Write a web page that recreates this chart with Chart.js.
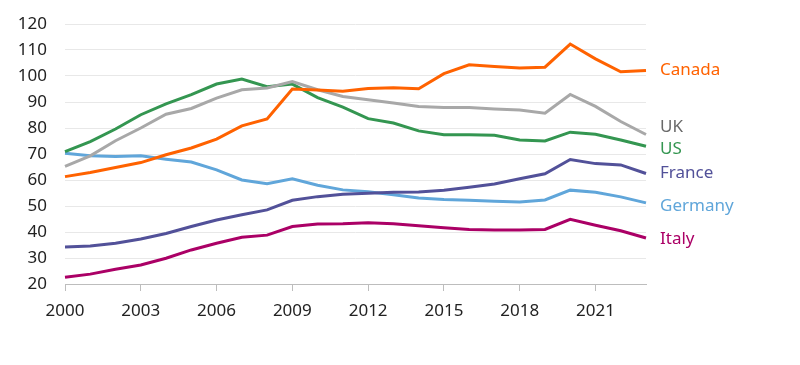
<!DOCTYPE html>
<html>
<head>
<meta charset="utf-8">
<script src="https://cdn.jsdelivr.net/npm/chart.js@4"></script>
<style>
  html, body { margin: 0; padding: 0; background: #fff; }
  #wrap { width: 800px; height: 365px; }
</style>
</head>
<body>
<div id="wrap"><canvas id="chart" width="800" height="365"></canvas></div>
<script>
var years = [];
for (var y = 2000; y <= 2023; y++) years.push(String(y));

var canada  = [61.3, 62.9, 64.8, 66.7, 69.7, 72.3, 75.7, 80.8, 83.5, 95.0, 94.6, 94.1, 95.2, 95.5, 95.1, 100.9, 104.3, 103.7, 103.1, 103.4, 112.3, 106.6, 101.6, 102.1];
var uk      = [65.2, 69.3, 75.1, 80.0, 85.3, 87.5, 91.5, 94.7, 95.4, 97.9, 94.7, 92.1, 90.9, 89.6, 88.3, 87.9, 87.9, 87.3, 86.9, 85.7, 92.9, 88.3, 82.5, 77.5];
var us      = [70.9, 74.8, 79.6, 85.1, 89.3, 92.8, 96.9, 98.8, 95.9, 96.9, 91.7, 88.0, 83.6, 81.9, 78.9, 77.4, 77.4, 77.2, 75.4, 75.0, 78.4, 77.6, 75.4, 73.0];
var france  = [34.2, 34.6, 35.7, 37.3, 39.4, 42.1, 44.6, 46.6, 48.5, 52.2, 53.6, 54.5, 54.9, 55.3, 55.4, 56.1, 57.2, 58.5, 60.5, 62.4, 67.9, 66.3, 65.8, 62.5];
var germany = [70.3, 69.3, 69.0, 69.3, 68.0, 66.9, 63.9, 60.0, 58.6, 60.5, 58.0, 56.2, 55.5, 54.3, 53.1, 52.5, 52.2, 51.8, 51.5, 52.3, 56.1, 55.3, 53.5, 51.2];
var italy   = [22.6, 23.8, 25.7, 27.3, 29.9, 33.1, 35.7, 38.0, 38.8, 42.1, 43.1, 43.2, 43.6, 43.2, 42.4, 41.6, 41.0, 40.8, 40.8, 41.0, 44.9, 42.6, 40.5, 37.7];

var seriesNames = ["Canada", "UK", "US", "France", "Germany", "Italy"];
var seriesData = [canada, uk, us, france, germany, italy];
var lineColors = ["#ff6200", "#a8a8a8", "#349651", "#525199", "#60a6da", "#ab0066"];
var labelColors = ["#ff6200", "#696969", "#349651", "#525199", "#60a6da", "#ab0066"];
// label anchor (in y units) for end labels
var labelAt = [102.4, 80.5, 72.0, 62.8, 50.1, 37.4];

var FONT = "'Noto Sans', 'DejaVu Sans', sans-serif";

var endLabels = {
    id: 'endLabels',
    afterDatasetsDraw: function(chart) {
        var ctx = chart.ctx;
        var ys = chart.scales.y;
        ctx.save();
        ctx.font = "17px " + FONT;
        ctx.textBaseline = "middle";
        ctx.textAlign = "left";
        for (var i = 0; i < seriesNames.length; i++) {
            ctx.fillStyle = labelColors[i];
            ctx.fillText(seriesNames[i], chart.chartArea.right + 14, ys.getPixelForValue(labelAt[i]));
        }
        ctx.restore();
    }
};

new Chart(document.getElementById("chart"), {
    type: 'line',
    data: {
        labels: years,
        datasets: seriesNames.map(function(name, i) {
            return {
                label: name,
                data: seriesData[i],
                borderColor: lineColors[i],
                backgroundColor: lineColors[i],
                borderWidth: 3,
                pointRadius: 0,
                tension: 0,
                fill: false
            };
        })
    },
    options: {
        responsive: false,
        animation: false,
        layout: {padding: {left: 0, right: 154, top: 24, bottom: 0}},
        plugins: {
            legend: {display: false},
            tooltip: {enabled: false}
        },
        scales: {
            x: {
                offset: false,
                afterFit: function(scale) {
                    scale.height = 81;
                    scale.paddingLeft = 0;
                    scale.paddingRight = 0;
                },
                grid: {
                    display: true,
                    drawOnChartArea: false,
                    drawTicks: true,
                    tickLength: 7,
                    color: "#bdbdbd"
                },
                border: {display: true, color: "#bdbdbd", width: 1},
                ticks: {
                    autoSkip: false,
                    maxRotation: 0,
                    color: "#222",
                    font: {family: FONT, size: 17},
                    padding: 10,
                    callback: function(val, idx) {
                        return idx % 3 === 0 ? years[idx] : null;
                    }
                }
            },
            y: {
                min: 20,
                max: 120,
                afterFit: function(scale) {
                    scale.width = 65;
                    scale.paddingTop = 0;
                    scale.paddingBottom = 0;
                },
                grid: {color: "#e8e8e8", drawTicks: false},
                border: {display: false},
                ticks: {
                    stepSize: 10,
                    color: "#222",
                    padding: 18,
                    font: {family: FONT, size: 17}
                }
            }
        }
    },
    plugins: [endLabels]
});
</script>
</body>
</html>
